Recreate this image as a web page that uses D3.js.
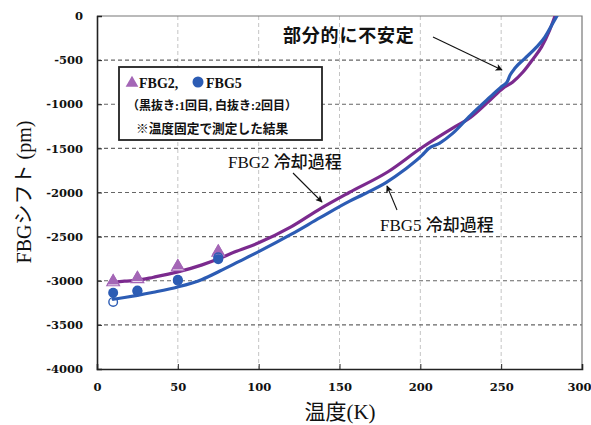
<!DOCTYPE html>
<html>
<head>
<meta charset="utf-8">
<script src="https://cdn.jsdelivr.net/npm/d3@7"></script>
<style>
  html, body { margin: 0; padding: 0; background: #fff; }
  svg { display: block; }
</style>
</head>
<body>
<svg id="chart" width="591" height="425"></svg>
<script>
// Cooling curves (temperature K -> wavelength shift pm)
const fbg2Temp  = [10, 17, 25, 35, 50, 65, 76, 85, 100, 120, 138, 156, 180, 201, 220, 231, 243, 251, 257, 263.5, 270, 275, 280, 283.3];
const fbg2Shift = [-3020, -3005, -2995, -2960, -2900, -2820, -2745, -2675, -2570, -2390, -2185, -2000, -1765, -1490, -1270, -1150, -955, -820, -750, -635, -480, -350, -160, 0];

const fbg5Temp  = [10, 17, 25, 35, 50, 65, 76, 88, 100, 120, 138, 156, 165, 179, 190, 201, 205, 212, 220, 231, 243, 250.5, 253.6, 255.5, 258.6, 264.7, 272, 277, 281.4, 284.5];
const fbg5Shift = [-3210, -3190, -3165, -3130, -3070, -2985, -2890, -2780, -2670, -2475, -2285, -2100, -2020, -1885, -1745, -1580, -1505, -1440, -1330, -1125, -920, -795, -750, -670, -590, -480, -350, -240, -100, 0];

// Fixed-temperature measurements (filled: 1st run, open: 2nd run)
const fixedTemps = [10, 25, 50, 75];
const fbg2Run1 = [-3000, -2965, -2830, -2665];
const fbg2Run2 = [-3015, -2980, -2845, -2680];
const fbg5Run1 = [-3135, -3110, -2990, -2755];
const fbg5Run2 = [-3240, -3120, -3000, -2735];

const xTicks = [0, 50, 100, 150, 200, 250, 300];
const yTicks = [0, -500, -1000, -1500, -2000, -2500, -3000, -3500, -4000];

const purple = "#7b2a8e", purpleMarker = "#a466b6", blue = "#2c5cb4";
const serifJP = "'Liberation Serif', 'Noto Sans CJK JP', serif";
const tickFont = "'DejaVu Serif', serif";

const svg = d3.select("#chart");
const W = 591, H = 425;
const m = { left: 97, right: 9, top: 16, bottom: 56 };
const pw = W - m.left - m.right, ph = H - m.top - m.bottom;

const x = d3.scaleLinear().domain([0, 300]).range([m.left, m.left + pw]);
const y = d3.scaleLinear().domain([-4000, 0]).range([m.top + ph, m.top]);

svg.append("rect").attr("width", W).attr("height", H).attr("fill", "#fff");

// grid
const grid = svg.append("g");
grid.selectAll("line.v").data(xTicks.filter(d => d > 0 && d < 300)).join("line")
  .attr("x1", d => x(d)).attr("x2", d => x(d)).attr("y1", y(0)).attr("y2", y(-4000))
  .attr("stroke", "#c4c4c4").attr("stroke-width", 1).attr("stroke-dasharray", "4,3");
grid.selectAll("line.h").data(yTicks.filter(d => d < 0 && d > -4000)).join("line")
  .attr("x1", x(0)).attr("x2", x(300)).attr("y1", d => y(d)).attr("y2", d => y(d))
  .attr("stroke", "#666").attr("stroke-width", 1.2).attr("stroke-dasharray", "4,3");

// top & right frame
svg.append("path")
  .attr("d", `M${x(0)},${y(0)}H${x(300)}V${y(-4000)}`)
  .attr("fill", "none").attr("stroke", "#777").attr("stroke-width", 1.2);

// axes
const xAxis = d3.axisBottom(x).tickValues(xTicks).tickSize(-5).tickPadding(14).tickFormat(d3.format("d"));
const gx = svg.append("g").attr("transform", `translate(0,${y(-4000)})`).call(xAxis);
const yAxis = d3.axisLeft(y).tickValues(yTicks).tickSize(-5).tickPadding(14).tickFormat(d => d === 0 ? "0" : "-" + Math.abs(d));
const gy = svg.append("g").attr("transform", `translate(${x(0)},0)`).call(yAxis);
[gx, gy].forEach(g => {
  g.select(".domain").attr("stroke", "#222").attr("stroke-width", 1.6);
  g.selectAll(".tick line").attr("stroke", "#222").attr("stroke-width", 1);
  g.selectAll(".tick text").attr("font-family", tickFont).attr("font-weight", "bold")
    .attr("font-size", 11.5).attr("fill", "#111");
});
gx.selectAll(".tick text").attr("dy", "0.71em");
// last x label sits against the right edge of the page
gx.selectAll(".tick text").filter(d => d === 300).attr("text-anchor", "end").attr("x", W - x(300));

// curves
svg.append("clipPath").attr("id", "plotclip").append("rect")
  .attr("x", x(0)).attr("y", y(0)).attr("width", pw).attr("height", ph);
const line = d3.line().x(d => x(d[0])).y(d => y(d[1])).curve(d3.curveMonotoneX);
const curves = svg.append("g").attr("clip-path", "url(#plotclip)");
curves.append("path").datum(d3.zip(fbg2Temp, fbg2Shift))
  .attr("d", line).attr("fill", "none").attr("stroke", purple).attr("stroke-width", 3.2)
  .attr("stroke-linejoin", "round").attr("stroke-linecap", "round");
curves.append("path").datum(d3.zip(fbg5Temp, fbg5Shift))
  .attr("d", line).attr("fill", "none").attr("stroke", blue).attr("stroke-width", 3.2)
  .attr("stroke-linejoin", "round").attr("stroke-linecap", "round");

// markers
const tri = d3.symbol().type(d3.symbolTriangle).size(70);
const mk = svg.append("g");
mk.selectAll("path.t2").data(d3.zip(fixedTemps, fbg2Run2)).join("path")
  .attr("d", tri).attr("transform", d => `translate(${x(d[0])},${y(d[1])})`)
  .attr("fill", "#fff").attr("stroke", purpleMarker).attr("stroke-width", 1.2);
mk.selectAll("path.t1").data(d3.zip(fixedTemps, fbg2Run1)).join("path")
  .attr("d", tri).attr("transform", d => `translate(${x(d[0])},${y(d[1])})`)
  .attr("fill", purpleMarker);
mk.selectAll("circle.c1").data(d3.zip(fixedTemps, fbg5Run1)).join("circle")
  .attr("cx", d => x(d[0])).attr("cy", d => y(d[1])).attr("r", 5).attr("fill", blue);
mk.selectAll("circle.c2").data(d3.zip(fixedTemps, fbg5Run2)).join("circle")
  .attr("cx", d => x(d[0])).attr("cy", d => y(d[1])).attr("r", 4.3)
  .attr("fill", "none").attr("stroke", blue).attr("stroke-width", 1.4);

// legend box
const lg = svg.append("g");
lg.append("rect").attr("x", 119).attr("y", 67).attr("width", 203).attr("height", 73)
  .attr("fill", "#fff").attr("stroke", "#222").attr("stroke-width", 1.8);
lg.append("path").attr("d", d3.symbol().type(d3.symbolTriangle).size(70))
  .attr("transform", "translate(132,83)").attr("fill", purpleMarker);
lg.append("text").attr("x", 139).attr("y", 88).text("FBG2,")
  .attr("font-family", serifJP).attr("font-weight", "bold").attr("font-size", 14).attr("fill", "#111");
lg.append("circle").attr("cx", 198).attr("cy", 82).attr("r", 5.5).attr("fill", blue);
lg.append("text").attr("x", 206).attr("y", 88).text("FBG5")
  .attr("font-family", serifJP).attr("font-weight", "bold").attr("font-size", 14).attr("fill", "#111");
lg.append("text").attr("x", 127).attr("y", 110).text("（黒抜き:1回目, 白抜き:2回目）")
  .attr("font-family", serifJP).attr("font-weight", "bold").attr("font-size", 12).attr("fill", "#111");
lg.append("text").attr("x", 136).attr("y", 133).text("※温度固定で測定した結果")
  .attr("font-family", "'Noto Sans CJK JP', sans-serif").attr("font-weight", "bold").attr("font-size", 12.7).attr("fill", "#111");

// annotations
svg.append("defs").append("marker").attr("id", "arrowhead")
  .attr("viewBox", "0 0 10 10").attr("refX", 9).attr("refY", 5)
  .attr("markerWidth", 9).attr("markerHeight", 7).attr("orient", "auto")
  .attr("markerUnits", "userSpaceOnUse")
  .append("path").attr("d", "M0,0L10,5L0,10L2.5,5Z").attr("fill", "#111");

function arrow(x1, y1, x2, y2) {
  svg.append("line").attr("x1", x1).attr("y1", y1).attr("x2", x2).attr("y2", y2)
    .attr("stroke", "#111").attr("stroke-width", 1.1).attr("marker-end", "url(#arrowhead)");
}

svg.append("text").attr("x", 283).attr("y", 42).text("部分的に不安定")
  .attr("font-family", "'Noto Sans CJK JP', sans-serif").attr("font-weight", "bold")
  .attr("font-size", 18).attr("letter-spacing", 0.8).attr("fill", "#111");
arrow(433, 37, 502, 70);

function curveLabel(xp, yp, latin, jp) {
  const t = svg.append("text").attr("x", xp).attr("y", yp).attr("fill", "#111").attr("font-size", 17);
  t.append("tspan").text(latin + " ").attr("font-family", "'Liberation Serif', serif");
  t.append("tspan").text(jp).attr("font-family", "'Noto Sans CJK JP', sans-serif").attr("font-weight", 500);
}
curveLabel(228, 168, "FBG2", "冷却過程");
arrow(293, 173, 322, 202);
curveLabel(380, 231, "FBG5", "冷却過程");
arrow(397, 210, 387, 186);

// axis titles
svg.append("text").attr("transform", "translate(31,192) rotate(-90)").attr("text-anchor", "middle")
  .text("FBGシフト (pm)").attr("font-family", serifJP).attr("font-size", 20).attr("fill", "#111");
svg.append("text").attr("x", 340).attr("y", 419).attr("text-anchor", "middle")
  .text("温度(K)").attr("font-family", serifJP).attr("font-size", 21).attr("fill", "#111");
</script>
</body>
</html>
